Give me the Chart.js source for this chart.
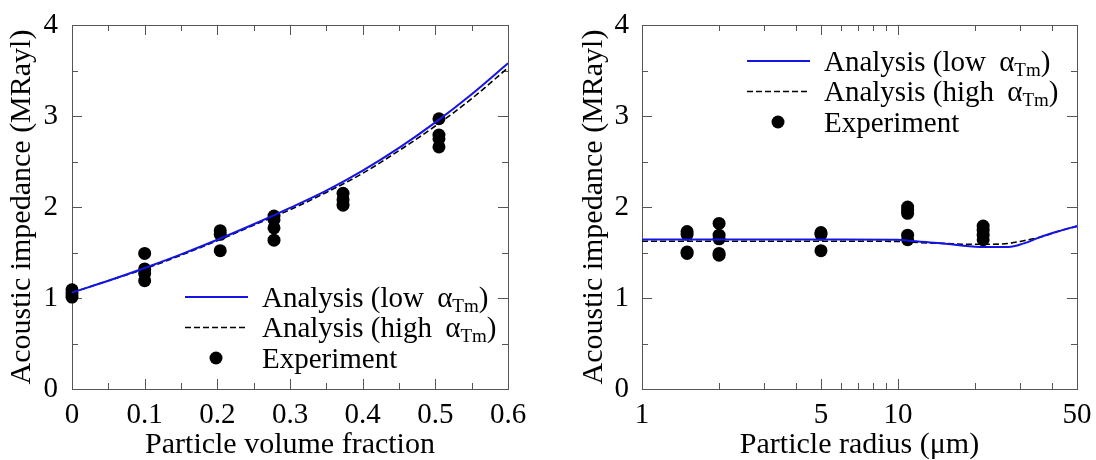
<!DOCTYPE html>
<html>
<head>
<meta charset="utf-8">
<title>Acoustic impedance</title>
<script src="https://cdn.jsdelivr.net/npm/chart.js@4.4.1/dist/chart.umd.min.js"></script>
<style>
  body { margin: 0; background: #fff; }
  .wrap { display: flex; width: 1096px; height: 460px; }
  canvas { display: block; }
</style>
</head>
<body>
<div class="wrap">
  <canvas id="fraction-chart" width="548" height="460"></canvas>
  <canvas id="radius-chart" width="548" height="460"></canvas>
</div>
<script>
const FONT = '"Liberation Serif", "Times New Roman", serif';

const impedanceTicks = [0, 1, 2, 3, 4];
const impedanceMinor = [0.5, 1.5, 2.5, 3.5];

// left panel: particle volume fraction
const fractionTicks = [0, 0.1, 0.2, 0.3, 0.4, 0.5, 0.6];
const fractionMinor = [0.05, 0.15, 0.25, 0.35, 0.45, 0.55];
const fractionCurve = [0, 0.05, 0.1, 0.15, 0.2, 0.25, 0.3, 0.35, 0.4, 0.45, 0.5, 0.55, 0.6];
const fractionLow = [1.06, 1.19, 1.33, 1.48, 1.64, 1.81, 1.99, 2.18, 2.40, 2.65, 2.93, 3.24, 3.58];
const fractionHigh = [1.06, 1.19, 1.32, 1.47, 1.63, 1.80, 1.97, 2.16, 2.37, 2.62, 2.89, 3.19, 3.53];
const fractionExpX = [0, 0, 0, 0.1, 0.1, 0.1, 0.1, 0.204, 0.204, 0.204, 0.278, 0.278, 0.278, 0.278,
  0.373, 0.373, 0.373, 0.505, 0.505, 0.505, 0.505];
const fractionExpY = [1.09, 1.05, 1.01, 1.49, 1.32, 1.27, 1.19, 1.74, 1.70, 1.52, 1.90, 1.86, 1.77, 1.635,
  2.15, 2.08, 2.02, 2.97, 2.79, 2.75, 2.66];

// right panel: particle radius (log axis)
const radiusTicks = [1, 5, 10, 50];
const radiusMinor = [2, 3, 4, 6, 7, 8, 9, 20, 30, 40];
const radiusCurve = [1, 2, 5, 10, 11, 12, 15, 19, 23, 27, 31, 36, 42, 50];
const radiusLow = [1.643, 1.643, 1.643, 1.64, 1.63, 1.62, 1.60, 1.57, 1.56, 1.56, 1.60, 1.67, 1.73, 1.79];
const radiusHigh = [1.624, 1.624, 1.624, 1.622, 1.615, 1.61, 1.60, 1.59, 1.59, 1.60, 1.63, 1.67, 1.73, 1.79];
const radiusExpX = [1.5, 1.5, 1.5, 1.5, 2, 2, 2, 2, 2, 5, 5, 5, 10.9, 10.9, 10.9, 10.9, 10.9,
  21.5, 21.5, 21.5, 21.5];
const radiusExpY = [1.73, 1.70, 1.505, 1.49, 1.82, 1.69, 1.65, 1.49, 1.47, 1.72, 1.70, 1.52,
  2.00, 1.965, 1.93, 1.69, 1.64, 1.79, 1.745, 1.69, 1.64];

const font = size => `${size}px ${FONT}`;
const fontOpt = size => ({ family: FONT, size, lineHeight: 1.2 });
const toPoints = (xs, ys) => xs.map((x, i) => ({ x, y: ys[i] }));

// box round the plot with inward tick marks on all four sides
const frameTicks = {
  id: 'frameTicks',
  beforeDatasetsDraw(chart, args, opts) {
    const { ctx, chartArea: a, scales: { x, y } } = chart;
    ctx.save();
    ctx.strokeStyle = '#555';
    ctx.lineWidth = 1;
    ctx.strokeRect(a.left + 0.5, a.top + 0.5, a.right - a.left, a.bottom - a.top);
    const mark = (scale, values, len) => {
      values.forEach(v => {
        const p = Math.round(scale.getPixelForValue(v)) + 0.5;
        ctx.beginPath();
        if (scale.isHorizontal()) {
          ctx.moveTo(p, a.bottom); ctx.lineTo(p, a.bottom - len);
          ctx.moveTo(p, a.top); ctx.lineTo(p, a.top + len);
        } else {
          ctx.moveTo(a.left, p); ctx.lineTo(a.left + len, p);
          ctx.moveTo(a.right, p); ctx.lineTo(a.right - len, p);
        }
        ctx.stroke();
      });
    };
    mark(x, opts.xMajor, 10);
    mark(x, opts.xMinor, 6);
    mark(y, impedanceTicks, 10);
    mark(y, impedanceMinor, 6);
    ctx.restore();
  }
};

function drawLabel(ctx, label, x, y) {
  ctx.fillStyle = '#000';
  ctx.textBaseline = 'alphabetic';
  ctx.font = font(29);
  const m = label.match(/^(.*)α_\{(.*)\}(.*)$/);
  if (!m) { ctx.fillText(label, x, y); return; }
  ctx.fillText(m[1], x, y);
  x += ctx.measureText(m[1]).width + 6;
  ctx.fillText('α', x, y);
  x += ctx.measureText('α').width;
  ctx.font = font(19);
  ctx.fillText(m[2], x, y + 5);
  x += ctx.measureText(m[2]).width;
  ctx.font = font(29);
  ctx.fillText(m[3], x, y);
}

// legend with the subscripted alpha, Chart.js legend can't do that
const mathLegend = {
  id: 'mathLegend',
  afterDraw(chart, args, opts) {
    const { ctx, chartArea: a } = chart;
    const x0 = a.left + opts.dx;
    const y0 = a.top + opts.dy;
    const gap = 30.5;
    ctx.save();
    chart.data.datasets.forEach((ds, i) => {
      const y = y0 + i * gap;
      if (ds.type === 'line') {
        ctx.strokeStyle = ds.borderColor;
        ctx.lineWidth = ds.borderWidth;
        ctx.setLineDash(ds.borderDash || []);
        ctx.beginPath();
        ctx.moveTo(x0, y);
        ctx.lineTo(x0 + 63, y);
        ctx.stroke();
        ctx.setLineDash([]);
      } else {
        ctx.fillStyle = ds.backgroundColor;
        ctx.beginPath();
        ctx.arc(x0 + 31, y, ds.pointRadius, 0, Math.PI * 2);
        ctx.fill();
      }
      drawLabel(ctx, ds.label, x0 + 77, y + 9.5);
    });
    ctx.restore();
  }
};

function makeChart(id, cfg) {
  return new Chart(document.getElementById(id), {
    type: 'scatter',
    data: {
      datasets: [
        {
          type: 'line',
          label: 'Analysis (low α_{Tm})',
          data: toPoints(cfg.curve, cfg.low),
          borderColor: '#1414e6',
          borderWidth: 2,
          pointRadius: 0,
          cubicInterpolationMode: 'monotone'
        },
        {
          type: 'line',
          label: 'Analysis (high α_{Tm})',
          data: toPoints(cfg.curve, cfg.high),
          borderColor: '#000',
          borderWidth: 1.6,
          borderDash: [6, 3],
          pointRadius: 0,
          cubicInterpolationMode: 'monotone'
        },
        {
          label: 'Experiment',
          data: toPoints(cfg.expX, cfg.expY),
          backgroundColor: '#000',
          borderWidth: 0,
          pointRadius: 6.5,
          clip: false
        }
      ]
    },
    options: {
      responsive: false,
      devicePixelRatio: 1,
      animation: false,
      layout: { padding: { top: 25, right: cfg.padRight, bottom: 0, left: 0 } },
      scales: {
        x: {
          type: cfg.xType,
          min: cfg.xTicks[0],
          max: cfg.xTicks[cfg.xTicks.length - 1],
          grid: { display: false },
          border: { display: false },
          ticks: { font: fontOpt(29), color: '#000', padding: 1, maxRotation: 0, autoSkip: false, callback: v => String(v) },
          afterBuildTicks: s => { s.ticks = cfg.xTicks.map(v => ({ value: v })); },
          afterFit: s => { s.height = 71; },
          title: { display: true, text: cfg.xTitle, font: fontOpt(30), color: '#000', padding: { top: 0, bottom: -3 } }
        },
        y: {
          min: 0,
          max: 4,
          grid: { display: false },
          border: { display: false },
          ticks: { font: fontOpt(29), color: '#000', padding: cfg.yPad, callback: v => String(v) },
          afterBuildTicks: s => { s.ticks = impedanceTicks.map(v => ({ value: v })); },
          afterFit: s => { s.width = cfg.yWidth; },
          title: {
            display: true,
            text: 'Acoustic impedance (MRayl)',
            font: fontOpt(30),
            color: '#000',
            padding: { top: cfg.titlePad, bottom: 0 }
          }
        }
      },
      plugins: {
        legend: { display: false },
        tooltip: { enabled: false },
        frameTicks: { xMajor: cfg.xTicks, xMinor: cfg.xMinor },
        mathLegend: cfg.legendAt
      }
    },
    plugins: [frameTicks, mathLegend]
  });
}

makeChart('fraction-chart', {
  xType: 'linear',
  xTicks: fractionTicks,
  xMinor: fractionMinor,
  curve: fractionCurve,
  low: fractionLow,
  high: fractionHigh,
  expX: fractionExpX,
  expY: fractionExpY,
  xTitle: 'Particle volume fraction',
  padRight: 40,
  yWidth: 72,
  yPad: 6,
  titlePad: 4,
  legendAt: { dx: 113, dy: 272 }
});

makeChart('radius-chart', {
  xType: 'logarithmic',
  xTicks: radiusTicks,
  xMinor: radiusMinor,
  curve: radiusCurve,
  low: radiusLow,
  high: radiusHigh,
  expX: radiusExpX,
  expY: radiusExpY,
  xTitle: 'Particle radius (μm)',
  padRight: 19,
  yWidth: 94,
  yPad: 5,
  titlePad: 28,
  legendAt: { dx: 105, dy: 36 }
});
</script>
</body>
</html>
